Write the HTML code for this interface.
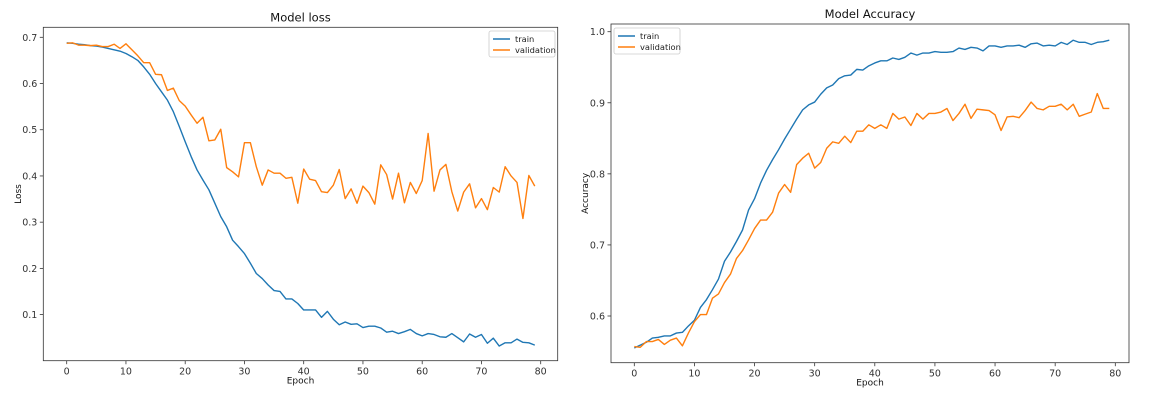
<!DOCTYPE html>
<html><head><meta charset="utf-8"><style>
html,body{margin:0;padding:0;background:#fff;width:1159px;height:400px;overflow:hidden}
svg{display:block;font-family:"DejaVu Sans","Liberation Sans",sans-serif}
</style></head><body>
<svg id="chart" width="1159" height="400"></svg>
<script>
const epochs = Array.from({length:80},(_,i)=>i);
const lossTrain = [0.688,0.687,0.685,0.684,0.682,0.681,0.679,0.676,0.673,0.670,0.665,0.658,0.650,0.636,0.620,0.600,0.582,0.564,0.539,0.507,0.474,0.442,0.413,0.391,0.370,0.341,0.312,0.290,0.261,0.247,0.232,0.211,0.189,0.178,0.164,0.152,0.150,0.134,0.134,0.124,0.110,0.110,0.110,0.094,0.107,0.090,0.078,0.084,0.079,0.080,0.072,0.075,0.075,0.071,0.062,0.064,0.059,0.063,0.068,0.059,0.054,0.059,0.057,0.052,0.051,0.059,0.050,0.041,0.058,0.051,0.057,0.038,0.049,0.032,0.039,0.039,0.047,0.040,0.039,0.034];
const lossVal = [0.687,0.688,0.683,0.683,0.682,0.683,0.680,0.680,0.685,0.676,0.686,0.673,0.660,0.645,0.645,0.620,0.619,0.585,0.590,0.563,0.551,0.532,0.514,0.527,0.476,0.478,0.501,0.418,0.409,0.398,0.472,0.472,0.420,0.380,0.413,0.406,0.406,0.395,0.397,0.341,0.415,0.393,0.390,0.366,0.364,0.380,0.414,0.351,0.372,0.341,0.378,0.364,0.339,0.424,0.403,0.350,0.406,0.342,0.386,0.362,0.390,0.492,0.367,0.413,0.425,0.366,0.324,0.365,0.383,0.331,0.351,0.327,0.375,0.365,0.420,0.400,0.386,0.308,0.401,0.378];
const accTrain = [0.555,0.559,0.563,0.569,0.570,0.572,0.572,0.576,0.577,0.586,0.594,0.612,0.623,0.637,0.652,0.677,0.690,0.705,0.721,0.749,0.765,0.787,0.805,0.820,0.834,0.849,0.863,0.877,0.890,0.897,0.901,0.912,0.921,0.925,0.934,0.938,0.939,0.947,0.946,0.952,0.956,0.959,0.959,0.963,0.961,0.964,0.970,0.967,0.970,0.970,0.972,0.971,0.971,0.972,0.977,0.975,0.978,0.977,0.973,0.980,0.980,0.978,0.980,0.980,0.981,0.978,0.983,0.984,0.980,0.981,0.980,0.985,0.982,0.988,0.985,0.985,0.982,0.985,0.986,0.988];
const accVal = [0.557,0.556,0.564,0.564,0.567,0.560,0.566,0.569,0.558,0.576,0.592,0.602,0.602,0.625,0.631,0.647,0.659,0.681,0.692,0.707,0.723,0.735,0.735,0.746,0.773,0.785,0.774,0.813,0.822,0.829,0.808,0.816,0.836,0.845,0.843,0.853,0.844,0.860,0.860,0.869,0.864,0.869,0.864,0.885,0.877,0.880,0.868,0.885,0.877,0.885,0.885,0.887,0.892,0.875,0.885,0.898,0.878,0.891,0.890,0.889,0.883,0.861,0.880,0.881,0.879,0.889,0.901,0.892,0.890,0.895,0.895,0.898,0.890,0.898,0.881,0.884,0.887,0.913,0.892,0.892];
const xTicks = [0,10,20,30,40,50,60,70,80];
const lossTicks = [0.1,0.2,0.3,0.4,0.5,0.6,0.7];
const accTicks = [0.6,0.7,0.8,0.9,1.0];

const svg = document.getElementById('chart');
const NS='http://www.w3.org/2000/svg';
function mk(tag, attrs, parent){const e=document.createElementNS(NS,tag);for(const k in attrs)e.setAttribute(k,attrs[k]);(parent||svg).appendChild(e);return e;}

function panel(cfg){
  const g=mk('g',{});
  
  
  const xs=e=>cfg.x0+(e-0)*(cfg.x80-cfg.x0)/80;
  const ys=v=>cfg.yA+(v-cfg.vA)*(cfg.yB-cfg.yA)/(cfg.vB-cfg.vA);
  const frame=mk('rect',{x:cfg.L,y:cfg.T,width:cfg.R-cfg.L,height:cfg.B-cfg.T,fill:'none',stroke:'#333','stroke-width':0.8},g);
  
  
  xTicks.forEach(t=>{
    const x=xs(t);
    mk('line',{x1:x,x2:x,y1:cfg.B,y2:cfg.B+3.5,stroke:'#333','stroke-width':0.8},g);
    const tx=mk('text',{x:x,y:cfg.B+14,'text-anchor':'middle','font-size':9.5,fill:'#333'},g);
    tx.textContent=t;
    
    
  });
  cfg.yTicks.forEach(t=>{
    const y=ys(t);
    mk('line',{x1:cfg.L-3.5,x2:cfg.L,y1:y,y2:y,stroke:'#333','stroke-width':0.8},g);
    const tx=mk('text',{x:cfg.L-6,y:y+3.5,'text-anchor':'end','font-size':9.5,fill:'#333'},g);
    tx.textContent=t.toFixed(1);
    
    
  });
  const title=mk('text',{x:(cfg.L+cfg.R)/2,y:cfg.T-6,'text-anchor':'middle','font-size':11.5,fill:'#111'},g);
  title.textContent=cfg.title;
  
  
  const xl=mk('text',{x:(cfg.L+cfg.R)/2,y:cfg.B+23,'text-anchor':'middle','font-size':9,fill:'#111'},g);
  xl.textContent='Epoch';
  
  
  const yl=mk('text',{x:cfg.ylx,y:(cfg.T+cfg.B)/2,'text-anchor':'middle','font-size':9,fill:'#111',transform:`rotate(-90 ${cfg.ylx} ${(cfg.T+cfg.B)/2})`},g);
  yl.textContent=cfg.ylabel;
  
  
  [[cfg.train,'#1f77b4','train-line'],[cfg.val,'#ff7f0e','validation-line']].forEach(([d,c,n])=>{
    const p=mk('polyline',{points:d.map((v,i)=>xs(epochs[i]).toFixed(2)+','+ys(v).toFixed(2)).join(' '),fill:'none',stroke:c,'stroke-width':1.4,'stroke-linejoin':'round'},g);
    
    
  });
  const lg=mk('g',{},g);
  
  
  mk('rect',{x:cfg.lgx,y:cfg.lgy,width:66,height:26,rx:2,fill:'#fff','fill-opacity':0.8,stroke:'#ccc','stroke-width':0.8},lg);
  [['train','#1f77b4'],['validation','#ff7f0e']].forEach(([n,c],i)=>{
    const y=cfg.lgy+8+i*11;
    mk('line',{x1:cfg.lgx+4,x2:cfg.lgx+21,y1:y,y2:y,stroke:c,'stroke-width':1.4},lg);
    const t=mk('text',{x:cfg.lgx+26,y:y+3,'font-size':8.3,fill:'#222'},lg);
    t.textContent=n;
    
    
  });
}
panel({name:'loss-chart',L:43.3,R:557.7,T:27.3,B:360.7,x0:66.7,x80:540.7,yA:37.3,vA:0.7,yB:314.6,vB:0.1,yTicks:lossTicks,train:lossTrain,val:lossVal,title:'Model loss',ylabel:'Loss',ylx:21,lgx:489,lgy:31});
panel({name:'accuracy-chart',L:611,R:1129,T:24,B:362.7,x0:634.3,x80:1115.3,yA:31.7,vA:1.0,yB:316,vB:0.6,yTicks:accTicks,train:accTrain,val:accVal,title:'Model Accuracy',ylabel:'Accuracy',ylx:588,lgx:614,lgy:28});
</script>
</body></html>
